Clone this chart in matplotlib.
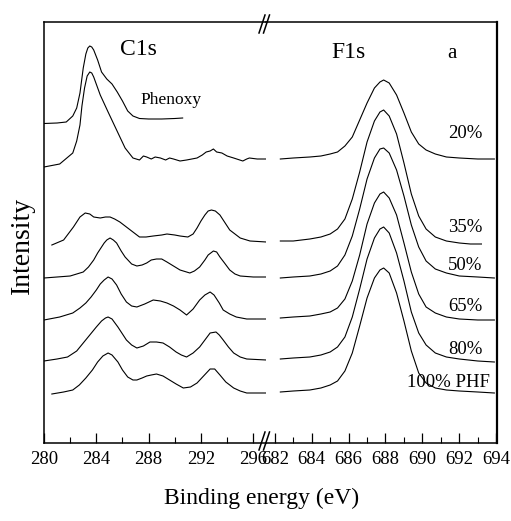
import numpy as np
import matplotlib
matplotlib.use('Agg')
import matplotlib.pyplot as plt
from matplotlib.lines import Line2D

#################################################
# C1s region (binding energy, eV) and intensities (arb. units)

E_phenoxy = [280.0, 281.0, 281.7, 282.2, 282.5, 282.75, 283.0, 283.2, 283.35, 283.5, 283.65, 283.8,
             284.1, 284.4, 284.8, 285.2, 285.6, 286.0, 286.4, 286.8, 287.3, 288.0, 289.0, 290.0, 290.6]
C_phenoxy = [319.5, 320, 321, 327, 335, 350, 375, 389, 395, 397, 396, 393,
             383, 371, 364, 359, 351, 342, 332, 327, 324.5, 324, 324, 324.5, 325]

E_c20 = [280.0, 281.2, 282.2, 282.5, 282.75, 282.9, 283.1, 283.3, 283.5, 283.65, 283.8, 284.3,
         284.9, 285.55, 286.2, 286.8, 287.3, 287.6, 287.85, 288.2, 288.5, 288.9, 289.3, 289.6,
         289.9, 290.4, 290.9, 291.3, 291.7, 292.1, 292.4, 292.7, 292.95, 293.2, 293.6, 294.0,
         294.5, 295.2, 295.5, 295.7, 296.3, 297.0]
C_c20 = [276, 279, 290, 302, 318, 337, 355, 367, 371, 370, 366, 348,
         331, 313, 295, 285, 283, 287, 286, 284, 286, 285, 283, 285,
         284, 282, 283, 284, 285, 288, 291, 292, 294, 291, 290, 287,
         285, 282, 284, 285, 284, 284]

E_c35 = [280.6, 281.5, 282.25, 282.75, 283.15, 283.5, 283.8, 284.3, 284.7, 285.05, 285.4, 285.8,
         286.2, 286.6, 287.0, 287.3, 287.8, 288.35, 289.0, 289.4, 290.0, 290.4, 291.0, 291.4,
         291.7, 292.0, 292.3, 292.55, 292.8, 293.1, 293.45, 293.8, 294.2, 295.0, 295.75, 297.0]
C_c35 = [198, 203, 216, 226, 230, 229, 226, 225, 226, 226, 224, 221,
         217, 213, 209, 206, 206, 207, 208, 209, 208, 207, 206, 209,
         215, 222, 228, 232, 233, 232, 228, 221, 213, 205, 202, 201]

E_c50 = [280.0, 281.0, 282.0, 283.0, 283.4, 283.8, 284.1, 284.4, 284.6, 284.8, 285.05, 285.3,
         285.55, 285.9, 286.2, 286.7, 287.1, 287.5, 287.85, 288.2, 288.6, 289.0, 289.4, 289.9,
         290.4, 291.15, 291.5, 291.9, 292.3, 292.55, 292.95, 293.2, 293.45, 293.8, 294.2, 294.6,
         295.0, 296.0, 297.0]
C_c50 = [165, 166, 167, 171, 176, 183, 190, 196, 200, 203, 205, 203,
         200, 192, 186, 179, 177, 178, 180, 183, 184, 184, 181, 177,
         173, 170, 172, 176, 183, 188, 192, 191, 186, 180, 173, 169,
         167, 166, 166]

E_c65 = [280.0, 281.2, 282.2, 282.75, 283.2, 283.6, 284.0, 284.3, 284.6, 284.9, 285.2, 285.55,
         285.9, 286.3, 286.7, 287.1, 287.7, 288.35, 288.9, 289.4, 289.9, 290.4, 290.9, 291.4,
         291.9, 292.3, 292.7, 293.0, 293.4, 293.7, 294.2, 294.7, 295.5, 297.0]
C_c65 = [123, 126, 130, 135, 140, 146, 153, 159, 163, 166, 164, 158,
         149, 141, 137, 136, 139, 143, 142, 140, 137, 133, 128, 134,
         143, 148, 151, 148, 140, 133, 129, 126, 124, 124]

E_c80 = [280.0, 281.0, 281.8, 282.5, 283.0, 283.5, 284.0, 284.4, 284.7, 284.9, 285.2, 285.65,
         286.0, 286.3, 286.7, 287.1, 287.6, 288.1, 288.6, 289.1, 289.6, 290.1, 290.5, 290.9,
         291.4, 291.9, 292.3, 292.7, 293.15, 293.4, 293.7, 294.1, 294.5, 295.0, 295.5, 297.0]
C_c80 = [82, 84, 86, 92, 100, 108, 116, 122, 125, 126, 124, 116,
         109, 103, 98, 95, 97, 101, 101, 100, 96, 91, 88, 86,
         90, 96, 103, 110, 111, 108, 103, 96, 90, 86, 84, 83]

E_c100 = [280.6, 281.5, 282.2, 282.7, 283.2, 283.7, 284.1, 284.5, 284.9, 285.2, 285.65, 286.0,
          286.4, 286.8, 287.1, 287.5, 287.85, 288.2, 288.6, 289.1, 289.6, 290.1, 290.65, 291.2,
          291.7, 292.2, 292.7, 293.05, 293.45, 293.9, 294.5, 295.0, 295.5, 297.0]
C_c100 = [49, 51, 53, 58, 65, 73, 81, 87, 90, 88, 81, 73,
          66, 63, 63, 65, 67, 68, 69, 67, 63, 59, 55, 56,
          60, 67, 74, 74, 68, 61, 55, 52, 50, 50]

# F1s region
E_f = [682.3, 683.0, 683.9, 684.5, 685.0, 685.4, 685.8, 686.2, 686.6, 687.0, 687.4, 687.7,
       687.9, 688.2, 688.6, 689.0, 689.4, 689.8, 690.2, 690.7, 691.3, 692.0, 693.0, 693.9]
E_f35 = E_f[:-3] + [692.0, 692.6, 693.2]
F_f20 = [284, 285, 286, 287, 289, 291, 297, 306, 323, 340, 355, 361,
         363, 360, 348, 330, 311, 299, 293, 289, 286, 285, 284, 284]
F_f35 = [202, 202, 204, 206, 209, 214, 224, 244, 271, 301, 322, 331,
         333, 327, 309, 280, 249, 227, 214, 206, 202, 200, 199, 199]
F_f50 = [165, 166, 167, 169, 172, 177, 188, 207, 234, 264, 285, 294,
         295, 290, 273, 247, 218, 196, 182, 174, 170, 167, 166, 165]
F_f65 = [125, 126, 127, 129, 131, 135, 144, 162, 188, 219, 240, 249,
         251, 245, 228, 200, 171, 149, 136, 130, 126, 124, 123, 123]
F_f80 = [84, 85, 86, 88, 91, 96, 106, 126, 154, 184, 205, 214,
         216, 210, 190, 162, 131, 110, 98, 90, 86, 84, 82, 81]
F_f100 = [51, 52, 53, 55, 58, 62, 72, 90, 117, 145, 165, 173,
          175, 170, 150, 122, 92, 70, 60, 55, 53, 52, 51, 50]

Labels  = ['20%', '35%', '50%', '65%', '80%', '100% PHF']
Label_Y = [305, 211, 173, 132, 89, 56]

#################################################

plt.rcParams['font.family'] = ['Liberation Serif', 'DejaVu Serif']
LineKw = dict(color='black', lw=0.8)

fig = plt.figure(figsize=(5.11, 5.21), dpi=100)
W, H = 511.0, 521.0
ax1 = fig.add_axes([44/W, 78/H, 222/W, 421/H])
ax2 = fig.add_axes([266/W, 78/H, 231/W, 421/H])

ax1.plot(E_phenoxy, C_phenoxy, **LineKw)
for e, c in [(E_c20, C_c20), (E_c35, C_c35), (E_c50, C_c50),
             (E_c65, C_c65), (E_c80, C_c80), (E_c100, C_c100)]:
    ax1.plot(e, c, **LineKw)

ax2.plot(E_f, F_f20, **LineKw)
ax2.plot(E_f35, F_f35, **LineKw)
for c in [F_f50, F_f65, F_f80, F_f100]:
    ax2.plot(E_f, c, **LineKw)

ax1.set_xlim(280, 280 + 222/13.08)
ax2.set_xlim(682 - 8.8/18.45, 682 - 8.8/18.45 + 231/18.45)
for ax in (ax1, ax2):
    ax.set_ylim(0, 421)
    ax.set_yticks([])
    ax.tick_params(axis='x', direction='in', which='major', length=7, width=0.9,
                   labelsize=13.5, pad=6, top=False)
    ax.tick_params(axis='x', direction='in', which='minor', length=4, width=0.8, top=False)
    for s in ax.spines.values():
        s.set_linewidth(1.1)

ax1.set_xticks([280, 284, 288, 292, 296])
ax1.set_xticks([282, 286, 290, 294], minor=True)
ax2.set_xticks([682, 684, 686, 688, 690, 692, 694])
ax2.set_xticks([683, 685, 687, 689, 691, 693], minor=True)
ax1.spines['right'].set_visible(False)
ax2.spines['left'].set_visible(False)
ax2.spines['right'].set_linewidth(1.6)

# panel texts
ax1.text(287.2, 388, 'C1s', fontsize=17, ha='center', va='baseline')
ax1.text(287.34, 339, 'Phenoxy', fontsize=12.5, ha='left', va='baseline')
ax2.text(686.0, 385, 'F1s', fontsize=17, ha='center', va='baseline')
ax2.text(691.6, 385, 'a', fontsize=15, ha='center', va='baseline')
for lab, y in zip(Labels, Label_Y):
    xr = 693.66 if 'PHF' in lab else 693.25
    ax2.text(xr, y, lab, fontsize=13.5, ha='right', va='baseline')

# axis break marks
for y0, y1 in [(H - 33, H - 15), (H - 450, H - 432)]:
    for x0 in (259, 263.5):
        fig.add_artist(Line2D([x0/W, (x0 + 6)/W], [y0/H, y1/H], color='black', lw=1.1))

fig.text(22/W, 1 - 245/H, 'Intensity', rotation=90, fontsize=20, ha='center', va='center')
fig.text(262/W, 1 - 498/H, 'Binding energy (eV)', fontsize=17, ha='center', va='center')

plt.savefig('out.png', dpi=100)
